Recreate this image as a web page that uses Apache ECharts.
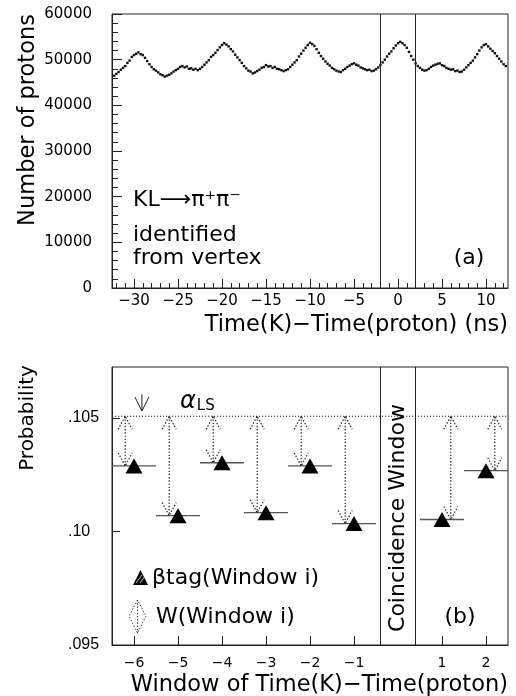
<!DOCTYPE html>
<html>
<head>
<meta charset="utf-8">
<script src="https://cdn.jsdelivr.net/npm/echarts@6/dist/echarts.min.js"></script>
<style>
html,body{margin:0;padding:0;background:#fff;}
#chart{width:516px;height:696px;}
</style>
</head>
<body>
<div id="chart"></div>
<script>
// ---------- Panel (a): proton time distribution ----------
const binStart = -32.25;   // ns, centre of first bin
const binWidth = 0.25;     // ns
const protonCounts = [
46500,46900,47300,47800,48200,48600,49300,49800,50600,51000,51300,51600,
51200,51000,50400,49700,49000,48400,47900,47600,47200,46800,46600,46300,
46500,46700,47000,47400,47700,48000,48400,48600,48300,48500,48000,48100,
47800,48000,47700,48000,48400,48900,49400,49900,50600,51000,51500,52100,
52700,53200,53600,53300,52900,52300,51800,51100,50500,49900,49300,48600,
48100,47600,47400,47000,47200,47500,47800,48200,48400,48800,48500,48600,
48200,48400,48000,47900,47700,47500,47700,47900,48400,48900,49400,49900,
50700,51300,52000,52600,53200,53700,53400,53000,52300,51500,50800,50200,
49600,49100,48700,48200,47900,47600,47400,47300,47700,48000,48400,48700,
49000,49200,48900,48700,48300,48100,47900,47700,47800,47500,47600,47900,
48300,48800,49400,50000,50700,51300,51800,52500,53100,53600,53900,53600,
53200,52600,51700,50800,50000,49200,48600,48200,47800,47600,47700,48000,
48400,48700,48900,49100,49200,48800,48600,48200,48000,47800,47900,47500,
47600,47300,47400,47800,48300,48800,49300,49800,50500,51200,52000,52700,
53200,53400,52900,52400,51900,51400,50800,50200,49600,49000,48600
];
const topXMajor = [-30,-25,-20,-15,-10,-5,0,5,10];
const topXMinor = [-32,-31,-30,-29,-28,-27,-26,-25,-24,-23,-22,-21,-20,-19,-18,-17,-16,-15,-14,-13,-12,-11,-10,-9,-8,-7,-6,-5,-4,-3,-2,-1,0,1,2,3,4,5,6,7,8,9,10,11,12];
const coincidenceNs = [-2, 2];

// ---------- Panel (b): probabilities per window ----------
const windows   = [-6, -5, -4, -3, -2, -1, 1, 2];
const betaTag   = [0.10289, 0.10070, 0.10303, 0.10083, 0.10289, 0.10035, 0.10053, 0.10268];
const arrowX    = [-6.2, -5.2, -4.2, -3.2, -2.2, -1.2, 1.2, 2.2];
const alphaLS   = 0.10508;
const alphaMarkX = -5.82;
const alphaMarkTop = 0.10605;
const alphaMarkBottom = 0.10531;
const botYTicks = [0.095, 0.10, 0.105];
const botYLabels = ['.095', '.10', '.105'];
const botXTicks = [-6, -5, -4, -3, -2, -1, 1, 2];
const coincidenceWin = [-0.4, 0.4];

const FONT = 'DejaVu Sans';
const minus = v => (v < 0 ? '\u2212' + Math.abs(v) : String(v));

const chart = echarts.init(document.getElementById('chart'), null, {renderer: 'canvas'});

const dotStyle = {stroke: '#222', lineWidth: 1.2, lineDash: [1.4, 1.8], fill: null};

const option = {
  backgroundColor: '#fff',
  animation: false,
  grid: [
    {left: 112, top: 14, width: 396, height: 274, show: true, borderColor: '#222', borderWidth: 1, backgroundColor: 'transparent'},
    {left: 112, top: 367, width: 396, height: 278, show: true, borderColor: '#222', borderWidth: 1, backgroundColor: 'transparent'}
  ],
  xAxis: [
    {
      gridIndex: 0, type: 'value', min: -32.5, max: 12.5, position: 'bottom',
      axisLine: {show: true, onZero: false, lineStyle: {color: '#222', width: 1}},
      axisTick: {show: true, inside: true, length: 9, customValues: topXMajor, lineStyle: {color: '#222'}},
      axisLabel: {show: true, customValues: topXMajor, margin: 6, fontSize: 15, fontFamily: FONT, color: '#000', formatter: minus},
      splitLine: {show: false}
    },
    {
      gridIndex: 0, type: 'value', min: -32.5, max: 12.5, position: 'bottom', offset: 0,
      axisLine: {show: false, onZero: false},
      axisTick: {show: true, inside: true, length: 5, customValues: topXMinor, lineStyle: {color: '#222'}},
      axisLabel: {show: false},
      splitLine: {show: false}
    },
    {
      gridIndex: 1, type: 'value', min: -6.5, max: 2.5, position: 'bottom',
      axisLine: {show: true, onZero: false, lineStyle: {color: '#222', width: 1}},
      axisTick: {show: true, inside: true, length: 9, customValues: botXTicks, lineStyle: {color: '#222'}},
      axisLabel: {show: true, customValues: botXTicks, margin: 11, fontSize: 14, fontFamily: FONT, color: '#000', formatter: minus},
      splitLine: {show: false}
    }
  ],
  yAxis: [
    {
      gridIndex: 0, type: 'value', min: 0, max: 60000, interval: 10000,
      axisLine: {show: true, onZero: false, lineStyle: {color: '#222', width: 1}},
      axisTick: {show: true, inside: true, length: 10, lineStyle: {color: '#222'}},
      minorTick: {show: true, splitNumber: 5, length: 6, lineStyle: {color: '#222'}},
      axisLabel: {show: true, margin: 20, fontSize: 15, fontFamily: FONT, color: '#000', formatter: v => String(v)},
      splitLine: {show: false}
    },
    {
      gridIndex: 1, type: 'value', min: 0.095, max: 0.10725,
      axisLine: {show: true, onZero: false, lineStyle: {color: '#222', width: 1}},
      axisTick: {show: true, inside: true, length: 8, customValues: botYTicks, lineStyle: {color: '#222'}},
      axisLabel: {show: true, customValues: botYTicks, margin: 44, align: 'left', fontSize: 16, fontFamily: 'Liberation Sans', color: '#000',
        formatter: v => { const i = botYTicks.findIndex(t => Math.abs(t - v) < 1e-6); return i >= 0 ? botYLabels[i] : ''; }},
      splitLine: {show: false}
    }
  ],
  series: [
    {
      type: 'scatter', xAxisIndex: 0, yAxisIndex: 0,
      symbol: 'rect', symbolSize: 2.4,
      itemStyle: {color: '#111', opacity: 1},
      data: protonCounts.map((v, i) => [binStart + i * binWidth, v]),
      markLine: {
        silent: true, symbol: 'none', label: {show: false},
        lineStyle: {color: '#222', type: 'solid', width: 1},
        data: coincidenceNs.map(x => ({xAxis: x}))
      },
      z: 3
    },
    // horizontal bars of each window measurement
    {
      type: 'custom', xAxisIndex: 2, yAxisIndex: 1,
      data: windows.map((w, i) => [w, betaTag[i]]),
      renderItem: (params, api) => {
        const x = api.value(0), y = api.value(1);
        const a = api.coord([x - 0.5, y]), b = api.coord([x + 0.5, y]);
        return {type: 'line', shape: {x1: a[0], y1: a[1], x2: b[0], y2: b[1]}, style: {stroke: '#555', lineWidth: 1.3}};
      },
      z: 2
    },
    // dotted double arrows W(window i)
    {
      type: 'custom', xAxisIndex: 2, yAxisIndex: 1,
      data: arrowX.map((x, i) => [x, betaTag[i], alphaLS]),
      renderItem: (params, api) => {
        const x = api.value(0);
        const bot = api.coord([x, api.value(1)]);
        const top = api.coord([x, api.value(2)]);
        const hw = 7, hl = 13;
        return {type: 'group', children: [
          {type: 'line', shape: {x1: top[0], y1: top[1], x2: bot[0], y2: bot[1]}, style: dotStyle},
          {type: 'polyline', shape: {points: [[top[0] - hw, top[1] + hl], [top[0], top[1]], [top[0] + hw, top[1] + hl]]}, style: dotStyle},
          {type: 'polyline', shape: {points: [[bot[0] - hw, bot[1] - hl], [bot[0], bot[1]], [bot[0] + hw, bot[1] - hl]]}, style: dotStyle}
        ]};
      },
      z: 2
    },
    // solid arrow pointing at alpha_LS
    {
      type: 'custom', xAxisIndex: 2, yAxisIndex: 1,
      data: [[alphaMarkX, alphaMarkTop, alphaMarkBottom]],
      renderItem: (params, api) => {
        const x = api.value(0);
        const t = api.coord([x, api.value(1)]);
        const b = api.coord([x, api.value(2)]);
        const st = {stroke: '#222', lineWidth: 1, fill: null};
        return {type: 'group', children: [
          {type: 'line', shape: {x1: t[0], y1: t[1], x2: b[0], y2: b[1]}, style: st},
          {type: 'polyline', shape: {points: [[b[0] - 7, b[1] - 14], [b[0], b[1]], [b[0] + 7, b[1] - 14]]}, style: st}
        ]};
      },
      z: 2
    },
    // alpha_LS dotted level line
    {
      type: 'custom', xAxisIndex: 2, yAxisIndex: 1,
      data: [[alphaLS]],
      renderItem: (params, api) => {
        const y = api.value(0);
        const cs = params.coordSys;
        const p = api.coord([cs.x, y]);
        const yy = p[1];
        return {type: 'line', shape: {x1: cs.x, y1: yy, x2: cs.x + cs.width, y2: yy}, style: {stroke: '#222', lineWidth: 1, lineDash: [1.2, 1.8]}};
      },
      encode: {y: 0},
      z: 2
    },
    // beta tag triangles
    {
      type: 'scatter', xAxisIndex: 2, yAxisIndex: 1,
      symbol: 'triangle', symbolSize: [17, 15],
      itemStyle: {color: '#000', opacity: 1},
      data: windows.map((w, i) => [w, betaTag[i]]),
      markLine: {
        silent: true, symbol: 'none', label: {show: false},
        lineStyle: {color: '#222', type: 'solid', width: 1},
        data: [{xAxis: coincidenceWin[0]}, {xAxis: coincidenceWin[1]}]
      },
      z: 4
    }
  ],
  graphic: [
    // axis titles
    {type: 'text', x: 28, y: 120, rotation: Math.PI / 2, style: {text: 'Number of protons', font: '22.5px "DejaVu Sans"', fill: '#000', align: 'center', verticalAlign: 'middle'}},
    {type: 'text', x: 508, y: 325, style: {text: 'Time(K)\u2212Time(proton) (ns)', font: '22.5px "DejaVu Sans"', fill: '#000', align: 'right', verticalAlign: 'middle'}},
    {type: 'text', x: 28, y: 418, rotation: Math.PI / 2, style: {text: 'Probability', font: '20px "DejaVu Sans"', fill: '#000', align: 'center', verticalAlign: 'middle'}},
    {type: 'text', x: 508, y: 685, style: {text: 'Window of Time(K)\u2212Time(proton)', font: '22.5px "DejaVu Sans"', fill: '#000', align: 'right', verticalAlign: 'middle'}},
    // panel (a) annotations
    {type: 'text', x: 133, y: 200, style: {text: 'KL\u27F6\u03C0\u207A\u03C0\u207B', font: '22px "DejaVu Sans"', fill: '#000', align: 'left', verticalAlign: 'middle'}},
    {type: 'text', x: 133, y: 235, style: {text: 'identified', font: '22px "DejaVu Sans"', fill: '#000', align: 'left', verticalAlign: 'middle'}},
    {type: 'text', x: 133, y: 258, style: {text: 'from vertex', font: '22px "DejaVu Sans"', fill: '#000', align: 'left', verticalAlign: 'middle'}},
    {type: 'text', x: 469, y: 258, style: {text: '(a)', font: '22px "DejaVu Sans"', fill: '#000', align: 'center', verticalAlign: 'middle'}},
    // panel (b) annotations
    {type: 'text', x: 180, y: 402, style: {
      text: '{a|\u03B1}{s|LS}', align: 'left', verticalAlign: 'middle',
      rich: {a: {font: 'italic 24px "DejaVu Sans"', fill: '#000'}, s: {font: '15px "DejaVu Sans"', fill: '#000', padding: [8, 0, 0, 1]}}
    }},
    {type: 'text', x: 398, y: 518, rotation: Math.PI / 2, style: {text: 'Coincidence Window', font: '22px "DejaVu Sans"', fill: '#000', align: 'center', verticalAlign: 'middle'}},
    {type: 'text', x: 460, y: 617, style: {text: '(b)', font: '22px "DejaVu Sans"', fill: '#000', align: 'center', verticalAlign: 'middle'}},
    // legend
    {type: 'polygon', shape: {points: [[133, 585], [140.5, 570], [148, 585]]}, style: {fill: '#000'}},
    {type: 'line', shape: {x1: 140, y1: 583, x2: 145, y2: 576}, style: {stroke: '#fff', lineWidth: 0.8}},
    {type: 'line', shape: {x1: 136, y1: 583, x2: 142, y2: 575}, style: {stroke: '#fff', lineWidth: 0.8}},
    {type: 'text', x: 152, y: 578, style: {text: '\u03B2tag(Window i)', font: '22px "DejaVu Sans"', fill: '#000', align: 'left', verticalAlign: 'middle'}},
    {type: 'polyline', shape: {points: [[137.5, 600], [129, 616], [137.5, 633], [146, 616], [137.5, 600]]}, style: {stroke: '#333', lineWidth: 1, lineDash: [1.4, 1.8], fill: null}},
    {type: 'line', shape: {x1: 137.5, y1: 600, x2: 137.5, y2: 633}, style: {stroke: '#333', lineWidth: 1, lineDash: [1.4, 1.8]}},
    {type: 'text', x: 156, y: 617, style: {text: 'W(Window i)', font: '22px "DejaVu Sans"', fill: '#000', align: 'left', verticalAlign: 'middle'}}
  ]
};
chart.setOption(option);
</script>
</body>
</html>
